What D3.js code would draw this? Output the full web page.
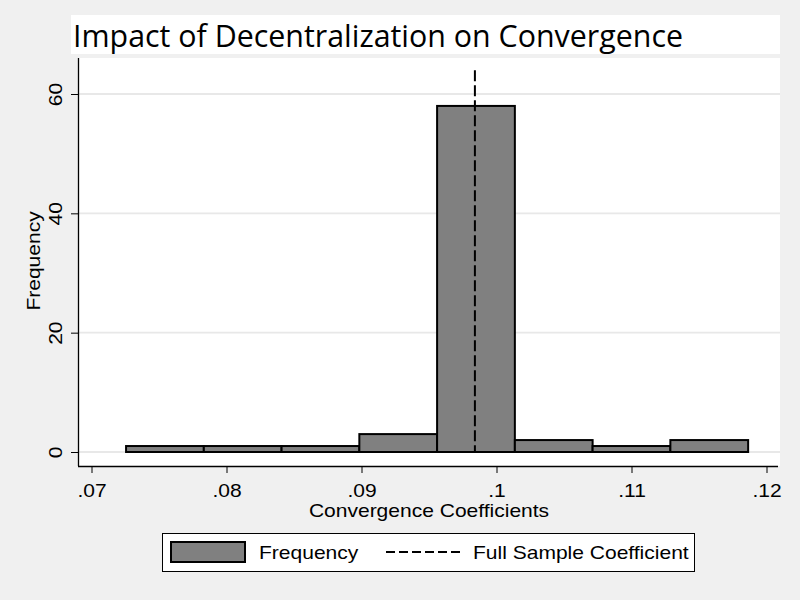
<!DOCTYPE html>
<html><head><meta charset="utf-8">
<script src="https://cdn.jsdelivr.net/npm/d3@7"></script>
<style>body{margin:0;background:#f0f0f0}</style>
</head><body>
<script>
const binStart = 0.07256;
const binWidth = 0.00576;
const counts = [1, 1, 1, 3, 58, 2, 1, 2];
const fullSampleCoef = 0.0984;
const lineTop = 64;
const xTicks = [0.07, 0.08, 0.09, 0.10, 0.11, 0.12];
const xTickLabels = [".07", ".08", ".09", ".1", ".11", ".12"];
const yTicks = [0, 20, 40, 60];
const titleText = "Impact of Decentralization on Convergence";
const xTitle = "Convergence Coefficients";
const yTitle = "Frequency";
const legendLabels = ["Frequency", "Full Sample Coefficient"];

const bins = counts.map((c, i) => ({x0: binStart + i * binWidth, x1: binStart + (i + 1) * binWidth, n: c}));

const W = 800, H = 600;
const FONT = "Liberation Sans, Arial, sans-serif";
const FS = 18.6, WIDEN = 1.13;
const svg = d3.select("body").append("svg").attr("width", W).attr("height", H);
svg.append("rect").attr("width", W).attr("height", H).attr("fill", "#f0f0f0");

function widen(sel) {
  sel.each(function () {
    const w = this.getComputedTextLength();
    d3.select(this).attr("textLength", w * WIDEN).attr("lengthAdjust", "spacingAndGlyphs");
  });
}

const pl = 78, pr = 780, pt = 58, pb = 466;
const x = d3.scaleLinear().domain([0.07, 0.12]).range([91.5, 766.5]);
const y = d3.scaleLinear().domain([0, 60]).range([452, 94]);

// title box
svg.append("rect").attr("x", 71).attr("y", 15).attr("width", 709).attr("height", 39).attr("fill", "#fff");
svg.append("text").attr("x", 73).attr("y", 47).attr("font-family", "Open Sans, sans-serif")
  .attr("font-size", 31).attr("fill", "#000").attr("textLength", 610).attr("lengthAdjust", "spacingAndGlyphs").text(titleText);

// plot region
svg.append("rect").attr("x", pl).attr("y", pt).attr("width", pr - pl).attr("height", pb - pt).attr("fill", "#fff");

// grid
svg.append("g").selectAll("line").data(yTicks).join("line")
  .attr("x1", pl + 1).attr("x2", pr).attr("y1", d => y(d)).attr("y2", d => y(d))
  .attr("stroke", "#e8e8e8").attr("stroke-width", 1.8);

// bars
svg.append("g").selectAll("rect").data(bins).join("rect")
  .attr("x", d => x(d.x0)).attr("width", d => x(d.x1) - x(d.x0))
  .attr("y", d => y(d.n)).attr("height", d => y(0) - y(d.n))
  .attr("fill", "#808080").attr("stroke", "#000").attr("stroke-width", 2);

// dashed line
svg.append("line").attr("x1", x(fullSampleCoef)).attr("x2", x(fullSampleCoef))
  .attr("y1", y(lineTop)).attr("y2", y(0)).attr("stroke", "#000").attr("stroke-width", 2)
  .attr("stroke-dasharray", "11,4");

// axes
const yAxis = svg.append("g").attr("transform", `translate(${pl},0)`)
  .call(d3.axisLeft(y).tickValues(yTicks).tickSize(7).tickFormat(d3.format("d")));
yAxis.select(".domain").attr("d", `M0.5,${pt}V${pb}`).attr("stroke", "#000").attr("stroke-width", 1.3);
yAxis.selectAll(".tick line").attr("stroke", "#000");
yAxis.selectAll(".tick text").attr("font-family", FONT).attr("font-size", FS)
  .attr("fill", "#000").attr("transform", "rotate(-90)").attr("x", 0).attr("y", -16).attr("dy", "0").attr("text-anchor", "middle")
  .call(widen);

const xAxis = svg.append("g").attr("transform", `translate(0,${pb})`)
  .call(d3.axisBottom(x).tickValues(xTicks).tickSize(7).tickFormat((d, i) => xTickLabels[i]));
xAxis.select(".domain").attr("d", `M${pl},0.5H${pr - 2}`).attr("stroke", "#000").attr("stroke-width", 1.3);
xAxis.selectAll(".tick line").attr("stroke", "#000");
xAxis.selectAll(".tick text").attr("font-family", FONT).attr("font-size", FS)
  .attr("fill", "#000").attr("y", 31).attr("dy", "0").call(widen);

// axis titles
svg.append("text").attr("x", 429).attr("y", 516.5).attr("text-anchor", "middle")
  .attr("font-family", FONT).attr("font-size", FS).text(xTitle).call(widen);
svg.append("text").attr("transform", "translate(40,261) rotate(-90)").attr("text-anchor", "middle")
  .attr("font-family", FONT).attr("font-size", FS).text(yTitle).call(widen);

// legend
const lg = svg.append("g");
lg.append("rect").attr("x", 162.5).attr("y", 533.5).attr("width", 532).attr("height", 38)
  .attr("fill", "#fff").attr("stroke", "#000").attr("stroke-width", 1);
lg.append("rect").attr("x", 171).attr("y", 542).attr("width", 74).attr("height", 20)
  .attr("fill", "#808080").attr("stroke", "#000").attr("stroke-width", 2);
lg.append("text").attr("x", 259).attr("y", 559).attr("font-family", FONT)
  .attr("font-size", FS).text(legendLabels[0]).call(widen);
lg.append("line").attr("x1", 386).attr("x2", 460).attr("y1", 552).attr("y2", 552)
  .attr("stroke", "#000").attr("stroke-width", 2).attr("stroke-dasharray", "9,4");
lg.append("text").attr("x", 473).attr("y", 559).attr("font-family", FONT)
  .attr("font-size", FS).text(legendLabels[1]).call(widen);
</script>
</body></html>
